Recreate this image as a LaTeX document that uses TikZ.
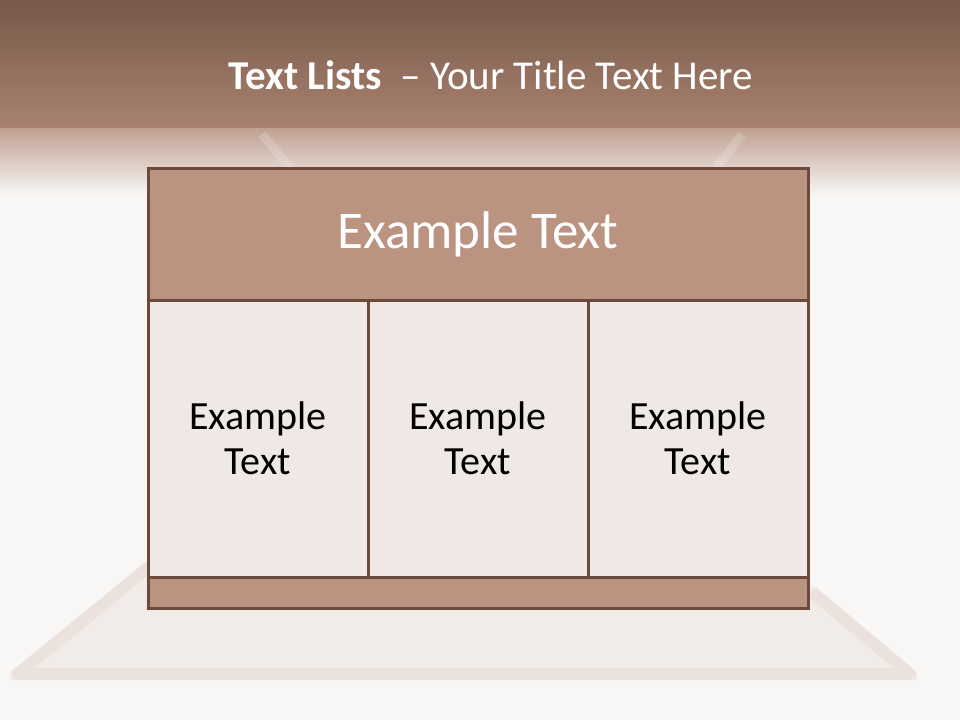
\documentclass[tikz,border=0pt]{standalone}
\usepackage{fontspec}
\setmainfont{Carlito}
\definecolor{bgc}{HTML}{F9F7F5}
\definecolor{topA}{HTML}{775949}
\definecolor{topB}{HTML}{A98270}
\definecolor{fadeA}{HTML}{BFA091}
\definecolor{edge}{HTML}{6B4A3C}
\definecolor{headfill}{HTML}{BB9381}
\definecolor{cellfill}{HTML}{F0E8E4}
\definecolor{ghost}{HTML}{EBE2DD}
\definecolor{ghostfill}{HTML}{F2ECE9}
\tikzset{
  panel/.style={draw=edge, line width=3pt},
  cell/.style={panel, fill=cellfill},
  band/.style={panel, fill=headfill},
  celltext/.style={font=\fontsize{40}{45}\selectfont, text=black, align=center},
}
\begin{document}
\begin{tikzpicture}[x=1pt,y=-1pt]
\useasboundingbox (0,0) rectangle (960,720);
\fill[bgc] (0,0) rectangle (960,720);
% header band
\shade[top color=topA, bottom color=topB] (0,0) rectangle (960,128);
\shade[top color=fadeA, bottom color=bgc] (0,128) rectangle (960,196);
% faint background mat
\fill[ghostfill] (150,560) -- (810,585) -- (917,672) -- (917,680) -- (10,680) -- (10,672) -- cycle;
\draw[ghost, line width=12pt, line join=round] (150,566) -- (18,674) -- (910,674) -- (812,592);
\draw[white, opacity=0.18, line width=9pt] (262,134) -- (290,168);
\draw[white, opacity=0.18, line width=9pt] (742,134) -- (716,168);
% title
\node[text=white, font=\fontsize{41}{46}\selectfont] (title) at (491,75) {\textbf{Text Lists}\ \ – Your Title Text Here};
% table
\draw[band] (148,168) rectangle (808,300);
\draw[cell] (148,300) rectangle (368,577);
\draw[cell] (368,300) rectangle (588,577);
\draw[cell] (588,300) rectangle (808,577);
\draw[band] (148,577) rectangle (808,608);
\node[text=white, font=\fontsize{53}{58}\selectfont] (head) at (478,234) {Example Text};
\node[celltext] (c1) at (258,438) {Example\\Text};
\node[celltext] (c2) at (478,438) {Example\\Text};
\node[celltext] (c3) at (698,438) {Example\\Text};
\end{tikzpicture}
\end{document}
